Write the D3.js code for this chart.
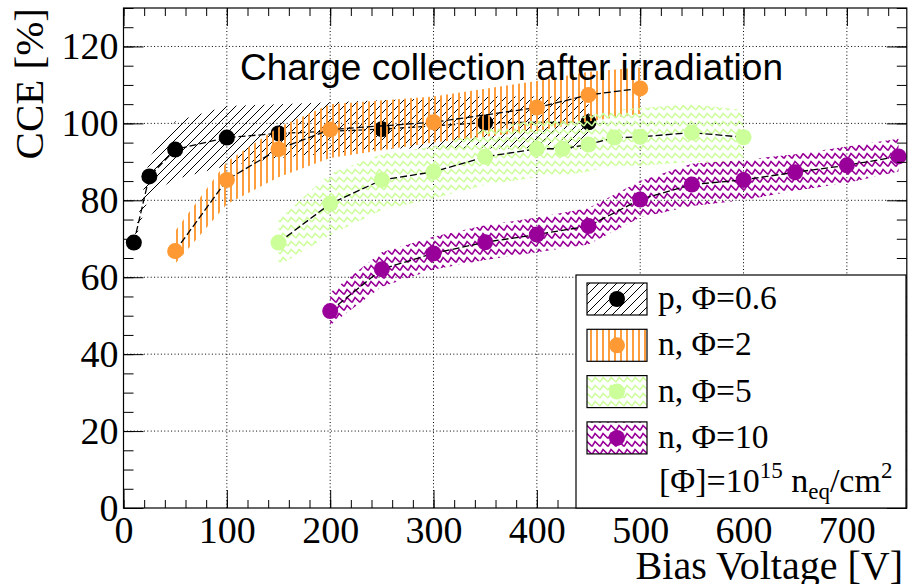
<!DOCTYPE html>
<html>
<head>
<meta charset="utf-8">
<script src="https://cdn.jsdelivr.net/npm/d3@7"></script>
<style>
  html, body { margin: 0; padding: 0; background: #fff; }
  svg { display: block; }
</style>
</head>
<body>
<svg id="chart" width="908" height="584"></svg>
<script>
// ---------- data ----------
const xMajorTicks = [0, 100, 200, 300, 400, 500, 600, 700];
const yMajorTicks = [0, 20, 40, 60, 80, 100, 120];

const blackV  = [10, 25, 50, 100, 150, 250, 350, 450];
const blackC  = [69, 86.2, 93.2, 96.3, 97.4, 98.5, 100.2, 100.3];
const blackLo = [68.5, 81.5, 85.5, 89, 91, 93.5, 93.5, 93.5];
const blackHi = [69.5, 91, 100.5, 104.5, 105, 106, 107, 107];

const orangeV  = [50, 100, 150, 200, 300, 400, 450, 500];
const orangeC  = [66.8, 85.3, 93.3, 98.4, 100.3, 104.1, 107.4, 109.1];
const orangeLo = [63.5, 79, 86, 91, 95, 98, 100.5, 102.5];
const orangeHi = [72, 90, 99, 105, 107, 111, 113.4, 114.5];

const greenV  = [150, 200, 250, 300, 350, 400, 425, 450, 475, 500, 550, 600];
const greenC  = [69, 79.1, 85.3, 87.4, 91.3, 93.4, 93.4, 94.5, 96.3, 96.5, 97.6, 96.4];
const greenLo = [63, 71, 77.5, 80.5, 84, 86, 86.5, 87.5, 89, 89, 90, 89.5];
const greenHi = [75, 87, 92, 94, 98.5, 101, 101, 102, 103.5, 104, 105, 103.5];

const purpleV  = [200, 250, 300, 350, 400, 450, 500, 550, 600, 650, 700, 750];
const purpleC  = [51.2, 62.1, 66.2, 69.1, 71.1, 73.3, 80.2, 84.1, 85.3, 87.3, 89.1, 91.4];
const purpleLo = [47.5, 57.5, 62, 64.5, 66.5, 68.5, 75.5, 78.5, 80, 82.5, 84.5, 87.5];
const purpleHi = [56, 66.5, 70.5, 73.5, 75.5, 78, 85, 89.5, 90.5, 92, 94, 96];

const seriesNames  = ["p, \u03A6=0.6", "n, \u03A6=2", "n, \u03A6=5", "n, \u03A6=10"];
const seriesColors = ["#000000", "#ff9933", "#ccff99", "#990099"];
const titleText = "Charge collection after irradiation";
const xTitle = "Bias Voltage [V]";
const yTitle = "CCE [%]";

// ---------- setup ----------
const svg = d3.select("#chart");
const serif = "'Liberation Serif', 'Times New Roman', serif";
const sans = "'Liberation Sans', Arial, sans-serif";

const x = d3.scaleLinear().domain([0, 758]).range([123.5, 906.8]);
const y = d3.scaleLinear().domain([0, 130]).range([508, 8]);
const [x0, x1] = x.range();
const [yb, yt] = y.range();

svg.append("rect").attr("width", 908).attr("height", 584).attr("fill", "#fff");

// patterns
const defs = svg.append("defs");
const pBlack = defs.append("pattern").attr("id", "pBlack").attr("patternUnits", "userSpaceOnUse")
  .attr("width", 9).attr("height", 9);
pBlack.append("path").attr("d", "M0,9 L9,0 M-1,1 L1,-1 M8,10 L10,8")
  .attr("stroke", "#000").attr("stroke-width", 1).attr("fill", "none");

const pOrange = defs.append("pattern").attr("id", "pOrange").attr("patternUnits", "userSpaceOnUse")
  .attr("width", 6).attr("height", 6);
pOrange.append("path").attr("d", "M3,0 V6").attr("stroke", seriesColors[1]).attr("stroke-width", 1.9);

const pGreen = defs.append("pattern").attr("id", "pGreen").attr("patternUnits", "userSpaceOnUse")
  .attr("width", 8).attr("height", 8);
pGreen.append("path").attr("d", "M0,6 L3,1.5 L8,6").attr("stroke", seriesColors[2])
  .attr("stroke-width", 1.5).attr("fill", "none");

const pPurple = defs.append("pattern").attr("id", "pPurple").attr("patternUnits", "userSpaceOnUse")
  .attr("width", 8).attr("height", 8);
pPurple.append("path").attr("d", "M0,6.5 L3,1.5 L8,6.5").attr("stroke", seriesColors[3])
  .attr("stroke-width", 1.6).attr("fill", "none");

const patternIds = ["pBlack", "pOrange", "pGreen", "pPurple"];

// grid
const grid = svg.append("g").attr("stroke", "#000").attr("stroke-width", 1)
  .attr("stroke-dasharray", "1,2.4");
grid.selectAll("line.gx").data(xMajorTicks.filter(d => d > 0)).enter().append("line")
  .attr("x1", d => x(d)).attr("x2", d => x(d)).attr("y1", yb).attr("y2", yt);
grid.selectAll("line.gy").data(yMajorTicks.filter(d => d > 0)).enter().append("line")
  .attr("x1", x0).attr("x2", x1).attr("y1", d => y(d)).attr("y2", d => y(d));

// series
const series = [
  {v: blackV, c: blackC, lo: blackLo, hi: blackHi},
  {v: orangeV, c: orangeC, lo: orangeLo, hi: orangeHi},
  {v: greenV, c: greenC, lo: greenLo, hi: greenHi},
  {v: purpleV, c: purpleC, lo: purpleLo, hi: purpleHi}
];

const area = d3.area().x(d => x(d.v)).y0(d => y(d.lo)).y1(d => y(d.hi));
const line = d3.line().x(d => x(d.v)).y(d => y(d.c));

series.forEach((s, i) => {
  const pts = s.v.map((v, k) => ({v, c: s.c[k], lo: s.lo[k], hi: s.hi[k]}));
  const g = svg.append("g");
  g.append("path").attr("d", area(pts)).attr("fill", `url(#${patternIds[i]})`).attr("stroke", "none");
  g.append("path").attr("d", line(pts)).attr("fill", "none").attr("stroke", "#000")
    .attr("stroke-width", 1.3).attr("stroke-dasharray", "7,3");
  g.selectAll("circle").data(pts).enter().append("circle")
    .attr("cx", d => x(d.v)).attr("cy", d => y(d.c)).attr("r", 8)
    .attr("fill", seriesColors[i]);
});

// axes
const xMinor = d3.range(0, 758, 20);
const yMinor = d3.range(0, 131, 5);
function styleAxis(g) {
  g.select(".domain").remove();
  g.selectAll("line").attr("stroke", "#000").attr("stroke-width", 1);
  g.selectAll("text").attr("font-family", serif).attr("font-size", 38).attr("fill", "#000");
}
svg.append("g").attr("transform", `translate(0,${yb})`)
  .call(d3.axisBottom(x).tickValues(xMinor).tickSize(-8).tickFormat("")).call(styleAxis);
svg.append("g").attr("transform", `translate(0,${yb})`)
  .call(d3.axisBottom(x).tickValues(xMajorTicks).tickSize(-18).tickPadding(8).tickFormat(d => d)).call(styleAxis);
svg.append("g").attr("transform", `translate(0,${yt})`)
  .call(d3.axisTop(x).tickValues(xMinor).tickSize(-8).tickFormat("")).call(styleAxis);
svg.append("g").attr("transform", `translate(0,${yt})`)
  .call(d3.axisTop(x).tickValues(xMajorTicks).tickSize(-18).tickFormat("")).call(styleAxis);
svg.append("g").attr("transform", `translate(${x0},0)`)
  .call(d3.axisLeft(y).tickValues(yMinor).tickSize(-10).tickFormat("")).call(styleAxis);
svg.append("g").attr("transform", `translate(${x0},0)`)
  .call(d3.axisLeft(y).tickValues(yMajorTicks).tickSize(-20).tickPadding(5).tickFormat(d => d)).call(styleAxis);
svg.append("g").attr("transform", `translate(${x1},0)`)
  .call(d3.axisRight(y).tickValues(yMinor).tickSize(-10).tickFormat("")).call(styleAxis);
svg.append("g").attr("transform", `translate(${x1},0)`)
  .call(d3.axisRight(y).tickValues(yMajorTicks).tickSize(-20).tickFormat("")).call(styleAxis);

// frame
svg.append("rect").attr("x", x0).attr("y", yt).attr("width", x1 - x0).attr("height", yb - yt)
  .attr("fill", "none").attr("stroke", "#000").attr("stroke-width", 1.2);

// axis titles
svg.append("text").attr("x", 903).attr("y", 579).attr("text-anchor", "end")
  .attr("font-family", serif).attr("font-size", 40).text(xTitle);
svg.append("text").attr("transform", "translate(43,8) rotate(-90)").attr("text-anchor", "end")
  .attr("font-family", serif).attr("font-size", 41).text(yTitle);

// legend
const lg = svg.append("g");
lg.append("rect").attr("x", 576).attr("y", 275).attr("width", 330).attr("height", yb - 275)
  .attr("fill", "#fff").attr("stroke", "#000").attr("stroke-width", 1.2);
seriesNames.forEach((name, i) => {
  const cy = 299 + i * 46.3;
  lg.append("rect").attr("x", 587).attr("y", cy - 16).attr("width", 60).attr("height", 32)
    .attr("fill", `url(#${patternIds[i]})`).attr("stroke", "#000").attr("stroke-width", 1.2);
  lg.append("circle").attr("cx", 617).attr("cy", cy).attr("r", 8).attr("fill", seriesColors[i]);
  lg.append("text").attr("x", 658).attr("y", cy + 10).attr("font-family", serif)
    .attr("font-size", 33.5).text(name);
});
const fn = lg.append("text").attr("x", 659).attr("y", 491.5).attr("font-family", serif).attr("font-size", 34);
fn.append("tspan").text("[\u03A6]=10");
fn.append("tspan").attr("font-size", 23).attr("dy", -14).text("15");
fn.append("tspan").attr("font-size", 34).attr("dy", 14).text(" n");
fn.append("tspan").attr("font-size", 23).attr("dy", 7).text("eq");
fn.append("tspan").attr("font-size", 34).attr("dy", -7).text("/cm");
fn.append("tspan").attr("font-size", 23).attr("dy", -14).text("2");

// title
svg.append("text").attr("x", 511.5).attr("y", 80).attr("text-anchor", "middle")
  .attr("font-family", sans).attr("font-size", 37).attr("fill", "#000").text(titleText);
</script>
</body>
</html>
